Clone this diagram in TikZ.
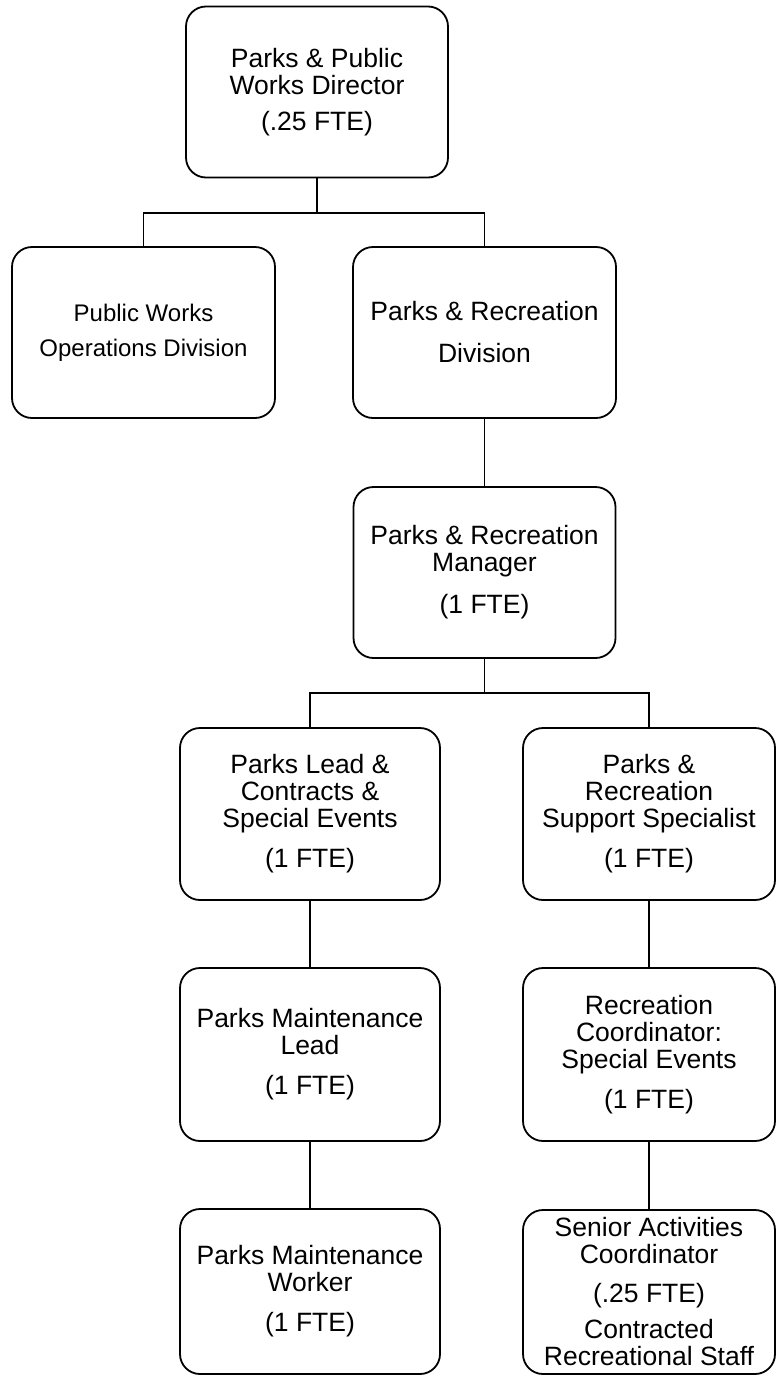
\documentclass[tikz,border=0pt]{standalone}
\usepackage{fontspec}
\setmainfont{Liberation Sans}
\begin{document}
\begin{tikzpicture}[x=1pt,y=-1pt,
  orgbox/.style={draw=black, line width=1.8pt, rounded corners=20pt,
    align=center, inner sep=0pt, font=\fontsize{26.5}{27}\selectfont},
  link/.style={draw=black, line width=1.8pt}]
\useasboundingbox (0,0) rectangle (776,1376);

% top level
\node[orgbox, minimum width=262pt, minimum height=171pt] (dir) at (317,92)
  {Parks \& Public\\Works Director\\[9pt](.25 FTE)};

% divisions
\node[orgbox, minimum width=263pt, minimum height=171pt,
      font=\fontsize{24}{35}\selectfont] (pw) at (143.5,332.5)
  {Public Works\\Operations Division};
\node[orgbox, minimum width=263pt, minimum height=171pt] (prd) at (484.5,332.5)
  {Parks \& Recreation\\[15pt]Division};

% manager
\node[orgbox, minimum width=262pt, minimum height=171pt] (mgr) at (484.5,572.5)
  {Parks \& Recreation\\Manager\\[15pt](1 FTE)};

% left column
\node[orgbox, minimum width=260pt, minimum height=172pt] (lead) at (310,814)
  {Parks Lead \&\\Contracts \&\\Special Events\\[13pt](1 FTE)};
\node[orgbox, minimum width=260pt, minimum height=173pt] (mlead) at (310,1054.5)
  {Parks Maintenance\\Lead\\[13pt](1 FTE)};
\node[orgbox, minimum width=260pt, minimum height=165pt] (worker) at (310,1291.5)
  {Parks Maintenance\\Worker\\[13pt](1 FTE)};

% right column
\node[orgbox, minimum width=252pt, minimum height=172pt] (sup) at (649,814)
  {Parks \&\\Recreation\\Support Specialist\\[13pt](1 FTE)};
\node[orgbox, minimum width=252pt, minimum height=173pt] (rc) at (649,1054.5)
  {Recreation\\Coordinator:\\Special Events\\[13pt](1 FTE)};
\node[orgbox, minimum width=252pt, minimum height=164pt] (senior) at (649,1292)
  {Senior Activities\\Coordinator\\[12pt](.25 FTE)\\[9pt]Contracted\\Recreational Staff};

% connectors
\coordinate (b1) at (317,213);
\coordinate (b2) at (484.5,693);
\draw[link] (dir.south) -- (b1);
\draw[link] (pw.north) |- (b1) -| (prd.north);
\draw[link] (prd.south) -- (mgr.north);
\draw[link] (mgr.south) -- (b2);
\draw[link] (lead.north) |- (b2) -| (sup.north);
\draw[link] (lead.south) -- (mlead.north);
\draw[link] (mlead.south) -- (worker.north);
\draw[link] (sup.south) -- (rc.north);
\draw[link] (rc.south) -- (senior.north);
\end{tikzpicture}
\end{document}
